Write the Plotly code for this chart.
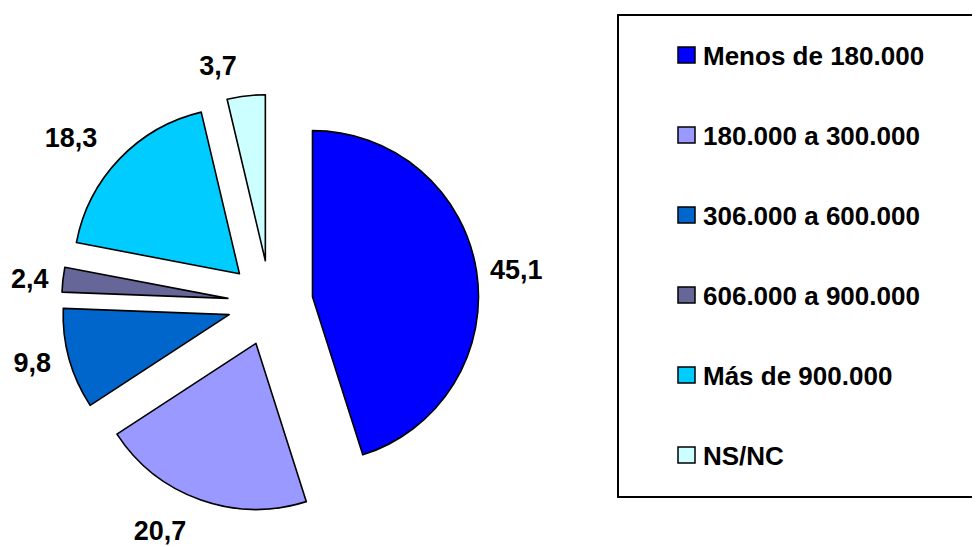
import plotly.graph_objects as go

# ---- data ----
categories = ["Menos de 180.000", "180.000 a 300.000", "306.000 a 600.000",
              "606.000 a 900.000", "Más de 900.000", "NS/NC"]
values = [45.1, 20.7, 9.8, 2.4, 18.3, 3.7]
colors = ["#0000FF", "#9999FF", "#0066CC", "#666699", "#00CCFF", "#CCFFFF"]
value_labels = [f"{v:.1f}".replace(".", ",") for v in values]

# ---- layout geometry (pixels of the page) ----
W, H = 980, 547
PAGE = 8                    # default body margin of the html page
CX, CY = 270.3 - PAGE, 303.2 - PAGE   # pie centre inside the figure
R = 166                     # pie radius
PULL_PX = 42.7              # explode distance
R_TEXT = 170                # base radius of the label ring
# radial distance of each value label from the pie centre (label placement style)
label_dist = [214.7, 227.6, 219.7, 215.7, 229.1, 224.0]
label_pull = [d / R_TEXT - 1 for d in label_dist]

FONT = "Liberation Sans, Arial, sans-serif"


def domain(half):
    return dict(x=[(CX - half) / W, (CX + half) / W],
                y=[1 - (CY + half) / H, 1 - (CY - half) / H])


fig = go.Figure()

# main pie
fig.add_trace(go.Pie(
    labels=categories, values=values, sort=False, direction="clockwise",
    rotation=0, pull=[PULL_PX / R] * len(values),
    marker=dict(colors=colors, line=dict(color="black", width=1.6)),
    textinfo="none", hoverinfo="label+value", showlegend=False,
    automargin=False,
    domain=domain(R + PULL_PX),
))

# value labels (same slices, transparent ring used only to place the texts)
fig.add_trace(go.Pie(
    labels=categories, values=values, sort=False, direction="clockwise",
    rotation=0, pull=label_pull,
    marker=dict(colors=["rgba(0,0,0,0)"] * len(values), line=dict(width=0)),
    text=value_labels, textinfo="text", textposition="outside",
    textfont=dict(family=FONT, size=27, color="black", weight="bold"),
    hoverinfo="skip", showlegend=False, automargin=False,
    domain=domain(R_TEXT * (1 + max(label_pull))),
))

# ---- legend (boxed, items spaced like the original) ----
def px_x(x):
    return (x - PAGE) / W


def px_y(y):
    return 1 - (y - PAGE) / H


shapes = [dict(type="rect", xref="paper", yref="paper",
               x0=px_x(618), x1=px_x(1000), y0=px_y(497), y1=px_y(15),
               line=dict(color="black", width=2), fillcolor="rgba(0,0,0,0)")]
annotations = []
item_y0, item_step = 55, 80
for i, (cat, col) in enumerate(zip(categories, colors)):
    yc = item_y0 + i * item_step
    shapes.append(dict(type="rect", xref="paper", yref="paper",
                       x0=px_x(678), x1=px_x(695),
                       y0=px_y(yc + 8), y1=px_y(yc - 8),
                       fillcolor=col, line=dict(color="black", width=1.5)))
    annotations.append(dict(xref="paper", yref="paper", x=px_x(701),
                            y=px_y(yc + 1), xanchor="left", yanchor="middle",
                            text=cat, showarrow=False,
                            font=dict(family=FONT, size=26, color="black",
                                      weight="bold")))

fig.update_layout(
    width=W, height=H, autosize=False,
    margin=dict(l=0, r=0, t=0, b=0, pad=0, autoexpand=False),
    paper_bgcolor="white", plot_bgcolor="white",
    shapes=shapes, annotations=annotations,
    font=dict(family=FONT),
)

fig.write_html("out.html")
